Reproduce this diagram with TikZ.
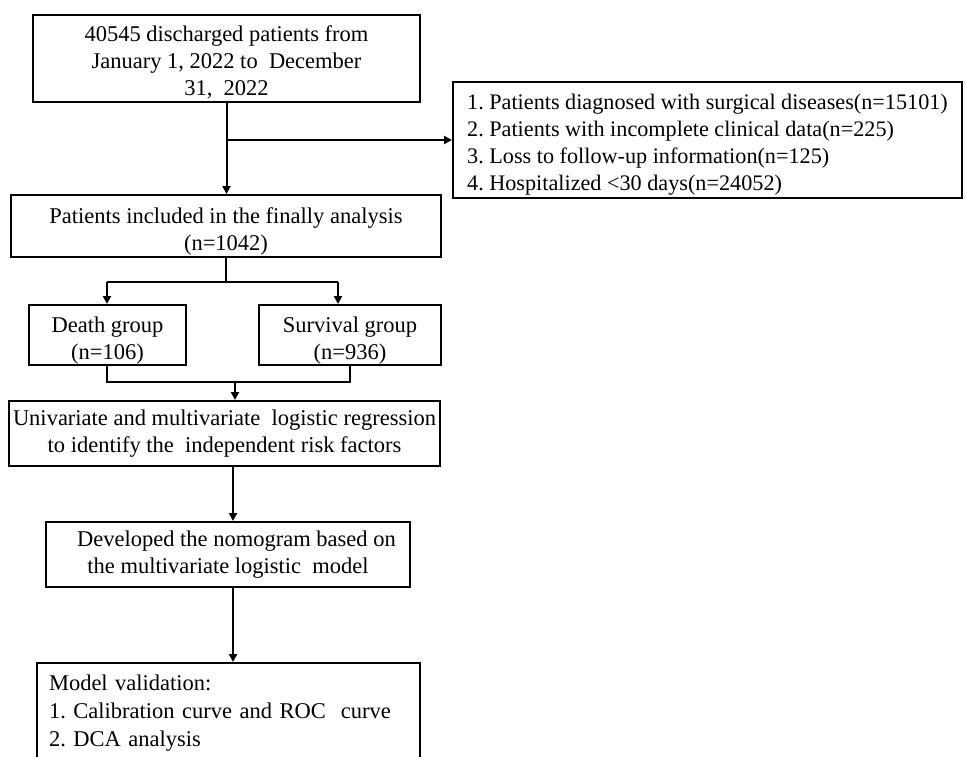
\documentclass[tikz,border=0pt]{standalone}
\usepackage{fontspec}
\setmainfont{Liberation Serif}
\usetikzlibrary{arrows.meta}
\frenchspacing
\newcommand\mydown[1]{\rule{0pt}{#1}}
\begin{document}
\begin{tikzpicture}[x=1pt,y=-1pt,
  box/.style={draw, line width=2pt, inner sep=0pt, font=\fontsize{22.5}{27}\selectfont, align=center},
  lbox/.style={draw, line width=2pt, inner xsep=12pt, inner ysep=0pt, font=\fontsize{22.5}{27}\selectfont, align=left},
  conn/.style={line width=2pt},
  arr/.style={line width=2pt, -{Triangle[width=8pt,length=8pt]}}]
\useasboundingbox (0,0) rectangle (965,756);
\node[box, minimum width=387pt, minimum height=87pt] (b1) at (226.5,58.5)
  {\mydown{24pt}40545 discharged patients from\\January 1, 2022 to\ \ December\\31,\ \ 2022};
\node[box, align=left, minimum width=509pt, minimum height=116pt, font=\fontsize{22.2}{27}\selectfont] (b3) at (707.5,140)
  {\mydown{24pt}1. Patients diagnosed with surgical diseases(n=15101)\\2. Patients with incomplete clinical data(n=225)\\3. Loss to follow-up information(n=125)\\4. Hospitalized <30 days(n=24052)};
\node[box, minimum width=430pt, minimum height=62pt] (b2) at (226,226)
  {\mydown{26pt}Patients included in the finally analysis\\(n=1042)};
\node[box, minimum width=157pt, minimum height=60pt] (d) at (107.5,335)
  {\mydown{26pt}Death group\\(n=106)};
\node[box, minimum width=182pt, minimum height=60pt] (s) at (350,335)
  {\mydown{26pt}Survival group\\(n=936)};
\node[box, minimum width=431pt, minimum height=65pt] (u) at (224.5,433.5)
  {Univariate and multivariate\ \ logistic regression\\to identify the\ \ independent risk factors};
\node[box, minimum width=364pt, minimum height=65pt] (n) at (228,554.5)
  {\ \ \ Developed the nomogram based on\\the multivariate logistic\ \ model};
\node[lbox, text width=359pt, minimum height=95pt, font=\fontsize{22.5}{28}\selectfont] (m) at (228.5,710.5)
  {\mydown{20pt}Model validation:\\1. Calibration curve and ROC\ \ curve\\2. DCA analysis};
% b1 -> b2 with exclusion branch
\draw[arr] (b1.south) -- (b1.south |- b2.north);
\coordinate (br) at (b1.south |- b3.west);
\draw[arr] (br) -- (b3.west);
% split
\coordinate (sp) at (226,282);
\coordinate (spl) at (107,282);
\coordinate (spr) at (338,282);
\draw[conn] (b2.south) -- (sp);
\draw[conn] (spl) -- (spr);
\draw[arr] (spl) -- (spl |- d.north);
\draw[arr] (spr) -- (spr |- s.north);
% merge
\coordinate (ml) at (107,382);
\coordinate (mr) at (350,382);
\coordinate (mc) at (235,382);
\draw[conn] (ml |- d.south) -- (ml) -- (mr) -- (mr |- s.south);
\draw[arr] (mc) -- (mc |- u.north);
% chain
\coordinate (c1) at (233,0);
\draw[arr] (c1 |- u.south) -- (c1 |- n.north);
\draw[arr] (c1 |- n.south) -- (c1 |- m.north);
\end{tikzpicture}
\end{document}
